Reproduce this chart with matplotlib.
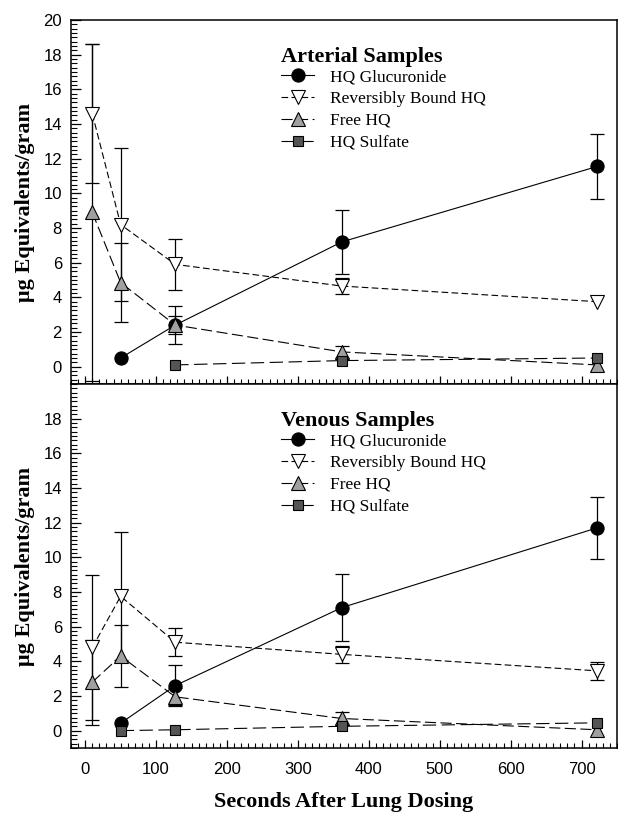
import numpy as np
import matplotlib
matplotlib.use("Agg")
import matplotlib.pyplot as plt
from matplotlib.ticker import MultipleLocator

nan = np.nan
times = [10, 50, 127, 362, 722]

# Arterial samples
art_gluc = [nan, 0.5, 2.4, 7.2, 11.55]
art_gluc_err = [0, 0, 0.5, 1.85, 1.9]
art_rev = [14.6, 8.2, 5.9, 4.65, 3.75]
art_rev_err = [4.0, 4.4, 1.45, 0.45, 0]
art_free = [8.9, 4.85, 2.4, 0.85, 0.1]
art_free_err = [9.7, 2.3, 1.1, 0.35, 0]
art_sulf = [nan, nan, 0.1, 0.35, 0.5]
art_sulf_err = [0, 0, 0, 0, 0]

# Venous samples
ven_gluc = [nan, 0.43, 2.6, 7.1, 11.7]
ven_gluc_err = [0, 0, 1.2, 1.95, 1.8]
ven_rev = [4.8, 7.75, 5.1, 4.4, 3.45]
ven_rev_err = [4.2, 3.7, 0.8, 0.5, 0.5]
ven_free = [2.8, 4.3, 1.95, 0.7, 0.05]
ven_free_err = [2.45, 1.8, 0.5, 0.35, 0]
ven_sulf = [nan, 0.0, 0.05, 0.25, 0.45]
ven_sulf_err = [0, 0, 0, 0, 0]

series_names = ["HQ Glucuronide", "Reversibly Bound HQ", "Free HQ", "HQ Sulfate"]
panel_titles = ["Arterial Samples", "Venous Samples"]
xticks = [0, 100, 200, 300, 400, 500, 600, 700]

styles = [
    dict(marker="o", ms=9.5, mfc="black", mec="black", ls="-"),
    dict(marker="v", ms=10, mfc="white", mec="black", ls=(0, (6, 3))),
    dict(marker="^", ms=10, mfc="#a0a0a0", mec="black", ls=(0, (10, 4))),
    dict(marker="s", ms=7.5, mfc="#555555", mec="black", ls=(0, (12, 5))),
]

serif = "Liberation Serif"
sans = "Liberation Sans"

fig = plt.figure(figsize=(6.18, 8.17), dpi=100)
ax_top = fig.add_axes([0.1149, 0.5300, 0.8835, 0.4455])
ax_bot = fig.add_axes([0.1149, 0.0845, 0.8835, 0.4455])

panels = [
    (ax_top, [art_gluc, art_rev, art_free, art_sulf],
     [art_gluc_err, art_rev_err, art_free_err, art_sulf_err]),
    (ax_bot, [ven_gluc, ven_rev, ven_free, ven_sulf],
     [ven_gluc_err, ven_rev_err, ven_free_err, ven_sulf_err]),
]

for i, (ax, vals, errs) in enumerate(panels):
    handles = []
    for v, e, st, name in zip(vals, errs, styles, series_names):
        v = np.array(v, dtype=float)
        e = np.array(e, dtype=float)
        t = np.array(times, dtype=float)
        m = (~np.isnan(v)) & (e > 0)
        ax.errorbar(t[m], v[m], yerr=e[m], fmt="none", ecolor="black",
                    elinewidth=0.9, capsize=5, capthick=0.9, zorder=2)
        h, = ax.plot(t, v, color="black", lw=0.8, linestyle=st["ls"],
                     marker=st["marker"], ms=st["ms"], mfc=st["mfc"],
                     mec=st["mec"], mew=0.8, zorder=3, label=name)
        handles.append(h)
    ax.set_xlim(-20, 750)
    ax.set_ylim(-1, 20)
    ax.xaxis.set_major_locator(MultipleLocator(100))
    ax.xaxis.set_minor_locator(MultipleLocator(10))
    ax.set_yticks(range(0, 21, 2) if i == 0 else range(0, 19, 2))
    ax.yaxis.set_minor_locator(MultipleLocator(0.25))
    ax.tick_params(axis="x", which="major", direction="in", length=6, width=0.9,
                   pad=10, labelsize=12)
    ax.tick_params(axis="x", which="minor", direction="in", length=3.5, width=0.8)
    ax.tick_params(axis="y", which="major", direction="in", length=7, width=0.9,
                   pad=6.5, labelsize=12)
    ax.tick_params(axis="y", which="minor", direction="in", length=4, width=0.8)
    for lab in ax.get_xticklabels() + ax.get_yticklabels():
        lab.set_fontfamily(sans)
    for sp in ax.spines.values():
        sp.set_linewidth(1.1)
    ax.set_ylabel("μg Equivalents/gram", fontsize=16, fontweight="bold",
                  fontfamily=serif)
    ax.yaxis.set_label_coords(-0.066, 0.5)
    leg = ax.legend(handles=handles, loc="upper left",
                    bbox_to_anchor=(0.385, 0.927),
                    frameon=False, borderpad=0, borderaxespad=0,
                    handlelength=1.9, handletextpad=0.9, labelspacing=0.32,
                    prop=dict(family=serif, size=12.5),
                    title=panel_titles[i],
                    title_fontproperties=dict(family=serif, size=16, weight="bold"),
                    alignment="left")
    leg._legend_box.sep = 2

ax_top.tick_params(axis="x", labelbottom=False)
ax_bot.set_xticks(xticks)
for lab in ax_bot.get_xticklabels():
    lab.set_fontfamily(sans)
ax_bot.set_xlabel("Seconds After Lung Dosing", fontsize=16, fontweight="bold",
                  fontfamily=serif, labelpad=11)

fig.savefig("out.png", dpi=100)
